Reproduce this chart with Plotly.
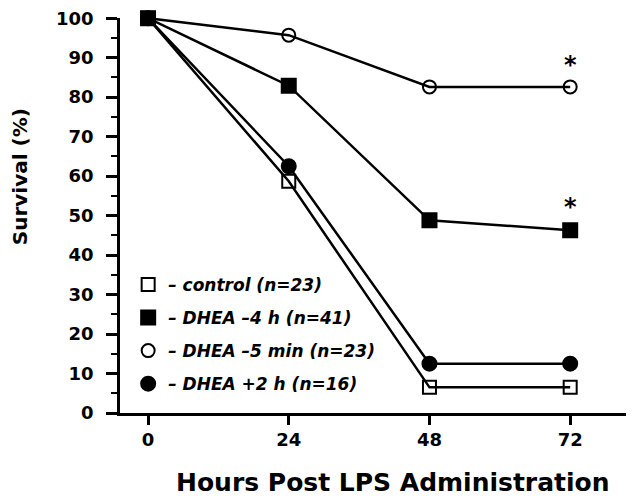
import plotly.graph_objects as go

hours = [0, 24, 48, 72]
control = [100, 58.7, 6.5, 6.5]
dhea_m4h = [100, 82.9, 48.8, 46.3]
dhea_m5min = [100, 95.7, 82.6, 82.6]
dhea_p2h = [100, 62.5, 12.5, 12.5]
labels = ["\u2013 control (n=23)", "\u2013 DHEA \u20134 h (n=41)",
          "\u2013 DHEA \u20135 min (n=23)", "\u2013 DHEA +2 h (n=16)"]
sig_x = [72, 72]
sig_y = [87.7, 51.7]

FONT = "DejaVu Sans"
series = [
    (control, "square-open", 13),
    (dhea_m4h, "square", 14),
    (dhea_m5min, "circle-open", 13),
    (dhea_p2h, "circle", 14),
]

fig = go.Figure()
for vals, sym, sz in series:
    fig.add_trace(go.Scatter(x=hours, y=vals, mode="lines",
                             line=dict(color="black", width=2.5),
                             showlegend=False, hoverinfo="skip", cliponaxis=False))
for i, (vals, sym, sz) in enumerate(series):
    fig.add_trace(go.Scatter(
        x=hours, y=vals, mode="markers", name=labels[i],
        legendgroup=str(i),
        marker=dict(symbol=sym, size=sz, color="black",
                    line=dict(color="black", width=2)),
        cliponaxis=False))

fig.add_trace(go.Scatter(x=sig_x, y=sig_y, mode="text", text=["*", "*"],
                         textfont=dict(family=FONT, size=24, color="black", weight="bold"),
                         showlegend=False, cliponaxis=False))

fig.update_layout(
    width=626, height=493,
    margin=dict(l=112, r=4, t=10, b=88, autoexpand=False),
    paper_bgcolor="white", plot_bgcolor="white",
    font=dict(family=FONT, color="black"),
    showlegend=True,
    legend=dict(x=0.016, y=0.37, xanchor="left", yanchor="top",
                bgcolor="rgba(0,0,0,0)", tracegroupgap=8, traceorder="grouped",
                font=dict(family=FONT, size=17, weight="bold", style="italic"),
                itemwidth=30),
    xaxis=dict(range=[-4.78, 82.2], tickvals=hours, ticktext=[str(h) for h in hours],
               automargin=False,
               showgrid=False, zeroline=False, showline=True, linecolor="black", linewidth=2.5,
               ticks="outside", ticklen=9, tickwidth=2.5, tickcolor="black",
               tickfont=dict(family=FONT, size=18, weight="bold")),
    yaxis=dict(range=[0, 100.05], tickvals=list(range(0, 101, 10)),
               automargin=False,
               showgrid=False, zeroline=False, showline=True, linecolor="black", linewidth=2.5,
               ticks="outside", ticklen=11, tickwidth=2.5, tickcolor="black",
               tickfont=dict(family=FONT, size=18, weight="bold"),
               ticklabelstandoff=9, ticklabeloverflow="allow",
               minor=dict(tickvals=list(range(5, 100, 10)), ticks="outside", ticklen=6,
                          tickwidth=2, tickcolor="black")),
    annotations=[
        dict(text="Hours Post LPS Administration", xref="paper", yref="paper",
             x=0.535, y=-0.177, xanchor="center", yanchor="middle", showarrow=False,
             font=dict(family=FONT, size=25, weight="bold")),
        dict(text="Survival (%)", xref="paper", yref="paper",
             x=-0.196, y=0.597, xanchor="center", yanchor="middle", textangle=-90,
             showarrow=False, font=dict(family=FONT, size=20, weight="bold")),
    ],
)

fig.write_html("out.html")
